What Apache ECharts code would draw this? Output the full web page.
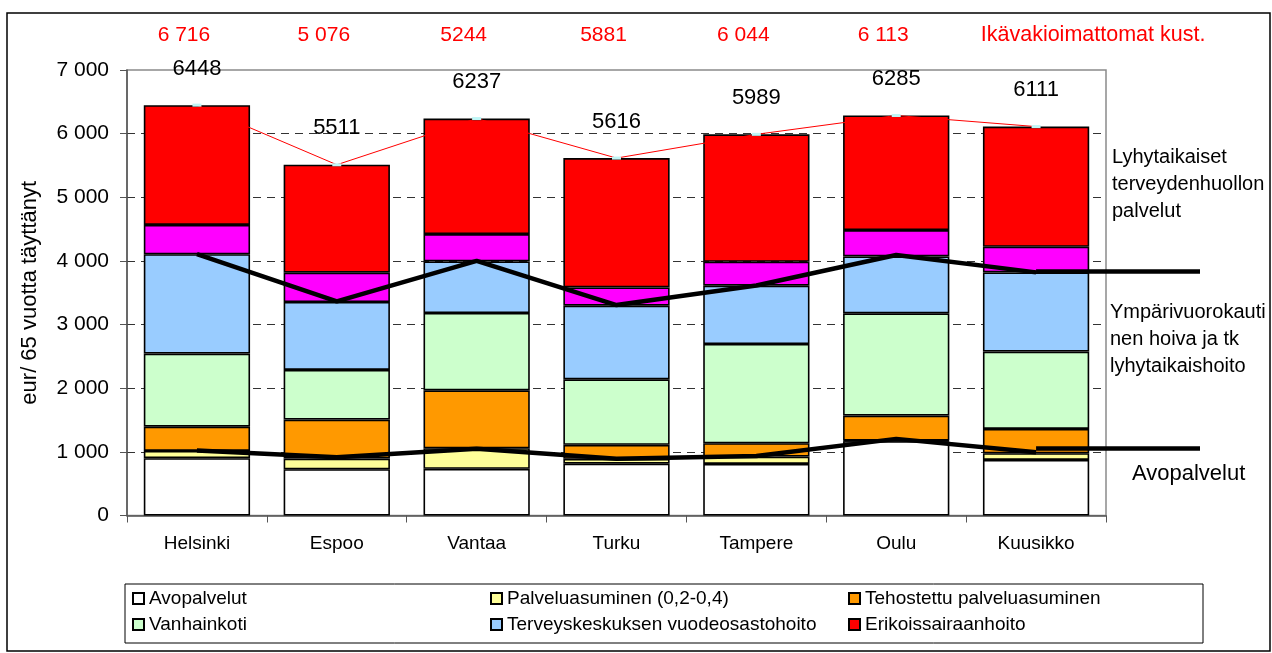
<!DOCTYPE html>
<html>
<head>
<meta charset="utf-8">
<script src="https://cdn.jsdelivr.net/npm/echarts@6/dist/echarts.min.js"></script>
<style>
html,body{margin:0;padding:0;background:#fff;}
#c{width:1272px;height:653px;}
</style>
</head>
<body>
<div id="c"></div>
<script>
const categories = ['Helsinki', 'Espoo', 'Vantaa', 'Turku', 'Tampere', 'Oulu', 'Kuusikko'];
const avopalvelut = [900, 727, 733, 815, 811, 1167, 874];
const palveluasuminen = [115, 168, 324, 75, 115, 10, 104];
const tehostettu = [380, 612, 910, 220, 209, 393, 383];
const vanhainkoti = [1150, 780, 1215, 1030, 1560, 1606, 1214];
const terveyskeskus = [1560, 1068, 810, 1157, 916, 895, 1245];
const muuLyhyt = [460, 460, 430, 287, 376, 414, 403];
const erikois = [1883, 1696, 1815, 2032, 2002, 1800, 1888];
const totals = [6448, 5511, 6237, 5616, 5989, 6285, 6111];
const avoLine = [1020, 915, 1050, 890, 935, 1204, 994];
const tkLine = [4108, 3364, 4000, 3307, 3615, 4093, 3820];
const avoLineEnd = 1063;
const tkLineEnd = 3835;
const unadjustedLabels = ['6 716', '5 076', '5244', '5881', '6 044', '6 113', 'Ikävakioimattomat kust.'];
const legendNames = ['Avopalvelut', 'Palveluasuminen (0,2-0,4)', 'Tehostettu palveluasuminen',
  'Vanhainkoti', 'Terveyskeskuksen vuodeosastohoito', 'Erikoissairaanhoito'];

const FONT = 'Liberation Sans, Arial, sans-serif';
const chart = echarts.init(document.getElementById('c'), null, {renderer: 'canvas'});

function barSeries(name, data, color) {
  return {
    name: name, type: 'bar', stack: 'total', data: data, barWidth: '76%',
    itemStyle: {color: color, borderColor: '#000', borderWidth: 1.6},
    emphasis: {disabled: true}
  };
}

const option = {
  backgroundColor: '#fff',
  animation: false,
  textStyle: {fontFamily: FONT},
  grid: {left: 127, right: 166, top: 70, bottom: 137.5, show: true, borderColor: '#8a8a8a', borderWidth: 1.5, backgroundColor: 'transparent'},
  legend: {
    data: legendNames,
    left: 125, top: 584, width: 1085,
    orient: 'horizontal',
    icon: 'rect', itemWidth: 11, itemHeight: 11, itemGap: 5,
    borderColor: '#000', borderWidth: 1,
    padding: [4, 2, 8, 7],
    textStyle: {fontFamily: FONT, fontSize: 19, color: '#000', width: 336, lineHeight: 21},
    selectedMode: false
  },
  xAxis: [
    {
      type: 'category', data: categories, gridIndex: 0,
      axisLine: {lineStyle: {color: '#555', width: 1.5}},
      axisTick: {show: true, length: 7, lineStyle: {color: '#555'}},
      axisLabel: {fontFamily: FONT, fontSize: 19, color: '#000', margin: 19}
    },
    {
      type: 'category', data: unadjustedLabels, gridIndex: 0, position: 'top',
      axisLine: {show: false}, axisTick: {show: false},
      axisLabel: {
        margin: 24, interval: 0,
        formatter: function (v, i) { return i === unadjustedLabels.length - 1 ? '{b|' + v + '}' : '{a|' + v + '}'; },
        rich: {
          a: {fontFamily: FONT, fontSize: 21, color: '#ff0000', padding: [0, 26, 0, 0]},
          b: {fontFamily: FONT, fontSize: 21.5, color: '#ff0000', padding: [0, 0, 0, 114]}
        }
      }
    }
  ],
  yAxis: {
    type: 'value', min: 0, max: 7000, interval: 1000,
    name: 'eur/ 65 vuotta täyttänyt', nameLocation: 'middle', nameGap: 86,
    nameTextStyle: {fontFamily: FONT, fontSize: 22, color: '#000'},
    axisLine: {show: true, lineStyle: {color: '#555', width: 1.5}},
    axisTick: {show: true, length: 7, lineStyle: {color: '#555'}},
    axisLabel: {
      fontFamily: FONT, fontSize: 21, color: '#000', margin: 18,
      formatter: function (v) { return String(v).replace(/\B(?=(\d{3})+(?!\d))/g, ' '); }
    },
    splitLine: {show: true, showMaxLine: false, showMinLine: false, lineStyle: {color: '#333', type: [8, 6], width: 1}}
  },
  series: [
    barSeries('Avopalvelut', avopalvelut, '#ffffff'),
    barSeries('Palveluasuminen (0,2-0,4)', palveluasuminen, '#ffff99'),
    barSeries('Tehostettu palveluasuminen', tehostettu, '#ff9900'),
    barSeries('Vanhainkoti', vanhainkoti, '#ccffcc'),
    barSeries('Terveyskeskuksen vuodeosastohoito', terveyskeskus, '#99ccff'),
    barSeries('Muu lyhytaikainen hoito', muuLyhyt, '#ff00ff'),
    barSeries('Erikoissairaanhoito', erikois, '#ff0000'),
    {
      name: 'Yhteensä', type: 'line', data: totals, z: 5,
      symbol: 'rect', symbolSize: [9, 3],
      itemStyle: {color: '#bff6f6'},
      lineStyle: {color: '#ff0000', width: 1},
      label: {show: true, position: 'top', distance: 24, fontFamily: FONT, fontSize: 22, color: '#000'},
      emphasis: {disabled: true}
    },
    {
      name: 'tkRaja', type: 'line', data: tkLine, z: 6, clip: false,
      symbol: 'none', lineStyle: {color: '#000', width: 4.5},
      emphasis: {disabled: true},
      markLine: {
        silent: true, symbol: 'none', label: {show: false},
        lineStyle: {color: '#000', width: 4.5, type: 'solid'},
        data: [[{coord: ['Kuusikko', tkLineEnd]}, {coord: ['Kuusikko', tkLineEnd], x: 1200}]]
      }
    },
    {
      name: 'avoRaja', type: 'line', data: avoLine, z: 6, clip: false,
      symbol: 'none', lineStyle: {color: '#000', width: 4.5},
      emphasis: {disabled: true},
      markLine: {
        silent: true, symbol: 'none', label: {show: false},
        lineStyle: {color: '#000', width: 4.5, type: 'solid'},
        data: [[{coord: ['Kuusikko', avoLineEnd]}, {coord: ['Kuusikko', avoLineEnd], x: 1200}]]
      }
    }
  ],
  graphic: [
    {type: 'rect', shape: {x: 7, y: 13, width: 1263, height: 638}, style: {fill: 'none', stroke: '#000', lineWidth: 1.5}, silent: true, z: 100},
    {type: 'text', left: 1112, top: 144, style: {text: 'Lyhytaikaiset\nterveydenhuollon\npalvelut', fontFamily: FONT, fontSize: 20, lineHeight: 27, fill: '#000'}},
    {type: 'text', left: 1110, top: 299, style: {text: 'Ympärivuorokauti\nnen hoiva ja tk\nlyhytaikaishoito', fontFamily: FONT, fontSize: 20, lineHeight: 27, fill: '#000'}},
    {type: 'text', left: 1132, top: 463, style: {text: 'Avopalvelut', fontFamily: FONT, fontSize: 22, fill: '#000'}}
  ]
};
chart.setOption(option);
</script>
</body>
</html>
